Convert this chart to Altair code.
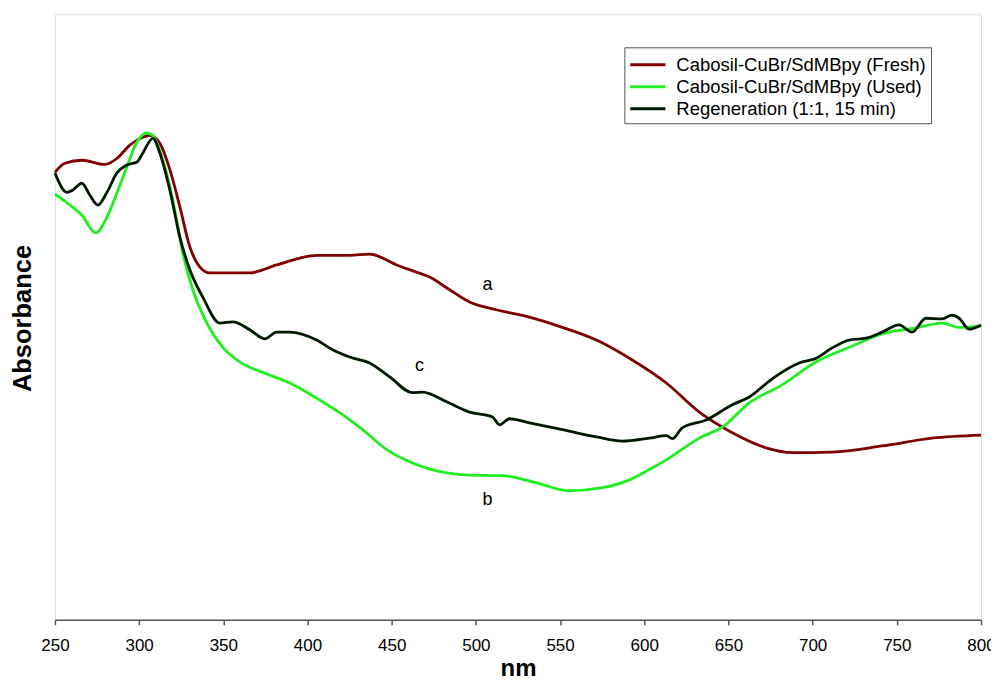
import altair as alt
import pandas as pd

# ---- data ----
fresh_nm = [250.0, 255.9, 266.0, 279.7, 286.8, 294.5, 302.2, 306.4, 312.3, 318.3, 324.2, 330.1, 336.0,
            342.0, 365.7, 381.7, 405.4, 425.0, 436.9, 452.9, 464.8, 472.5, 484.4, 496.2, 512.2, 531.8,
            551.4, 571.6, 592.9, 613.1, 632.7, 652.3, 672.4, 687.9, 711.6, 741.3, 770.9, 800.0]
fresh_abs = [0.739, 0.754, 0.759, 0.752, 0.762, 0.784, 0.797, 0.800, 0.787, 0.743, 0.682, 0.616, 0.583,
             0.573, 0.573, 0.586, 0.602, 0.602, 0.604, 0.586, 0.574, 0.566, 0.545, 0.525, 0.512, 0.500,
             0.483, 0.462, 0.429, 0.391, 0.343, 0.309, 0.284, 0.276, 0.277, 0.287, 0.300, 0.305]

used_nm = [250.0, 258.9, 266.0, 274.3, 280.9, 286.8, 292.7, 298.7, 304.6, 308.1, 314.1, 320.0, 325.9,
           331.9, 340.2, 349.7, 359.8, 375.8, 389.4, 407.2, 419.1, 432.7, 447.0, 462.4, 476.6, 496.2,
           515.8, 536.0, 555.5, 575.1, 591.2, 603.0, 613.1, 632.7, 646.3, 662.4, 681.9, 702.1, 721.7,
           741.3, 761.4, 776.9, 787.0, 800.0]
used_abs = [0.703, 0.685, 0.668, 0.639, 0.665, 0.705, 0.748, 0.789, 0.804, 0.800, 0.759, 0.693, 0.606,
            0.545, 0.490, 0.450, 0.426, 0.406, 0.391, 0.363, 0.342, 0.314, 0.281, 0.259, 0.246, 0.239,
            0.238, 0.226, 0.213, 0.218, 0.231, 0.248, 0.264, 0.300, 0.318, 0.358, 0.388, 0.426, 0.450,
            0.472, 0.482, 0.490, 0.483, 0.485]

regen_nm = [250.0, 257.1, 260.7, 266.0, 270.8, 275.5, 280.9, 286.8, 292.7, 298.7, 302.2, 308.1, 312.3,
            318.2, 324.2, 330.1, 337.8, 347.9, 355.6, 365.7, 374.6, 381.7, 389.4, 405.4, 414.9, 425.0,
            436.9, 448.8, 462.4, 468.3, 482.6, 496.2, 509.9, 514.0, 520.0, 531.8, 551.4, 571.6, 587.0,
            603.0, 613.1, 616.7, 622.6, 636.8, 652.3, 662.4, 676.0, 692.0, 702.1, 711.6, 721.7, 731.8,
            741.3, 751.3, 759.0, 767.3, 776.9, 782.8, 787.0, 792.9, 800.0]
regen_abs = [0.738, 0.706, 0.710, 0.721, 0.701, 0.685, 0.706, 0.738, 0.751, 0.756, 0.771, 0.795, 0.771,
             0.710, 0.632, 0.578, 0.533, 0.490, 0.492, 0.479, 0.464, 0.475, 0.475, 0.462, 0.446, 0.434,
             0.424, 0.401, 0.375, 0.376, 0.360, 0.343, 0.335, 0.322, 0.332, 0.325, 0.314, 0.302, 0.295,
             0.300, 0.304, 0.299, 0.317, 0.330, 0.355, 0.368, 0.398, 0.424, 0.432, 0.449, 0.462, 0.465,
             0.475, 0.487, 0.475, 0.498, 0.497, 0.503, 0.498, 0.480, 0.487]

series_names = ["Cabosil-CuBr/SdMBpy (Fresh)", "Cabosil-CuBr/SdMBpy (Used)", "Regeneration (1:1, 15 min)"]
series_colors = ["#800000", "#1fee1f", "#001a00"]

label_text = ["a", "c", "b"]
label_nm = [506.9, 466.5, 506.9]
label_abs = [0.553, 0.419, 0.198]

x_ticks = [250, 300, 350, 400, 450, 500, 550, 600, 650, 700, 750, 800]

# ---- build tables ----
rows = []
for name, xs, ys in zip(series_names, [fresh_nm, used_nm, regen_nm], [fresh_abs, used_abs, regen_abs]):
    for x, y in zip(xs, ys):
        rows.append({"nm": x, "abs": y, "series": name})
df = pd.DataFrame(rows)
labels = pd.DataFrame({"text": label_text, "nm": label_nm, "abs": label_abs})

FONT = "Liberation Sans"

x_enc = alt.X("nm:Q", scale=alt.Scale(domain=[250, 800], nice=False, zero=False),
              axis=alt.Axis(values=x_ticks, title="nm", grid=False, tickSize=5, labelPadding=13,
                            labelFlush=False, labelOverlap=False,
                            labelFontSize=17, labelFont=FONT, labelColor="#000000",
                            titleFont=FONT, titleFontSize=24, titleFontWeight="bold", titleColor="#000000",
                            titleY=49, titleBaseline="middle",
                            domainColor="#555555", domainWidth=1.5, tickColor="#555555", tickWidth=1.5))
y_enc = alt.Y("abs:Q", scale=alt.Scale(domain=[0, 1], nice=False),
              axis=alt.Axis(title="Absorbance", grid=False, labels=False, ticks=False, domain=False,
                            titleFont=FONT, titleFontSize=25.5, titleFontWeight="bold", titleColor="#000000",
                            titleX=-32, titleY=304, titleAngle=270, titleAlign="center",
                            titleBaseline="middle"))

lines = alt.Chart(df).mark_line(strokeWidth=2.8, interpolate="monotone").encode(
    x=x_enc,
    y=y_enc,
    color=alt.Color("series:N",
                    scale=alt.Scale(domain=series_names, range=series_colors),
                    sort=series_names,
                    legend=alt.Legend(title=None, orient="none", legendX=570, legendY=33,
                                      symbolType="M-1.6,0H1.6", symbolSize=484, symbolStrokeWidth=3,
                                      symbolOffset=6,
                                      labelFont=FONT, labelFontSize=18.5, labelColor="#000000",
                                      labelLimit=0, labelOffset=16, rowPadding=0, padding=5,
                                      strokeColor="#555555", fillColor="#ffffff")),
    detail="series:N",
)

texts = alt.Chart(labels).mark_text(font=FONT, fontSize=18, color="#000000").encode(
    x="nm:Q", y="abs:Q", text="text:N"
)

chart = alt.layer(lines, texts).properties(
    width=927, height=606,
    autosize=alt.AutoSizeParams(type="none"),
    padding={"left": 47, "top": 6, "right": 10, "bottom": 60},
).configure_view(stroke="#999999", strokeWidth=2).configure(background="#ffffff")

chart.save("out.html", embed_options={"renderer": "svg", "actions": False})
